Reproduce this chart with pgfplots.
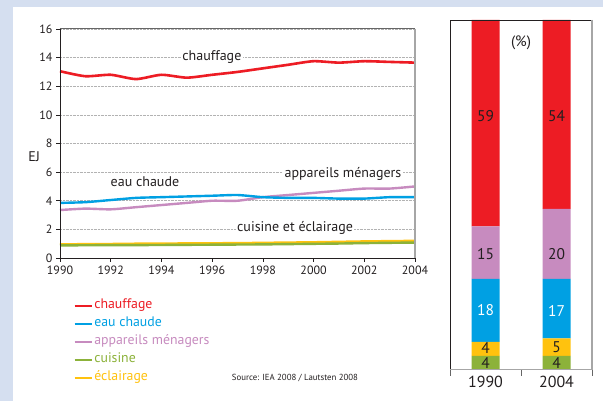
\documentclass[border=0pt]{standalone}
\usepackage{fontspec}
\setmainfont{PT Sans}
\usepackage{pgfplots}
\pgfplotsset{compat=1.18}
\definecolor{cRed}{HTML}{ED1C24}
\definecolor{cBlue}{HTML}{00A0E3}
\definecolor{cPink}{HTML}{C78BBF}
\definecolor{cGreen}{HTML}{8CB23A}
\definecolor{cYellow}{HTML}{FFC20E}
\definecolor{cBg}{HTML}{D5DFF0}
\definecolor{cText}{HTML}{231F20}
\tikzset{barlab/.style={font=\fontsize{15.5}{16}\selectfont, text=cText, inner sep=0pt}}
\newcommand\legimg[1]{\addlegendimage{legend image code/.code={\draw[draw=#1, line width=1.5pt] (-1pt,0pt) -- (16pt,0pt);}}}
\begin{document}
\begin{tikzpicture}
\useasboundingbox (0,0) rectangle (603pt,401pt);
\fill[cBg] (0,0) rectangle (603pt,401pt);
\fill[white] (13pt,0) rectangle (603pt,394pt);
% ---------------- line chart ----------------
\begin{axis}[
  at={(60pt,143pt)}, anchor=south west,
  scale only axis, width=355pt, height=229pt,
  xmin=1990, xmax=2004, ymin=0, ymax=16,
  xtick={1990,1992,...,2004}, ytick={0,2,...,16},
  xtick pos=bottom, ytick pos=left,
  tick align=outside, major tick length=4pt,
  tick style={cText, line width=0.6pt},
  ymajorgrids, grid style={densely dotted, gray!60, line width=0.5pt},
  axis line style={draw=none},
  /pgf/number format/assume math mode=true,
  xticklabel style={/pgf/number format/1000 sep={}, font=\fontsize{12}{13}\selectfont, text=cText},
  yticklabel style={font=\fontsize{12}{13}\selectfont, text=cText},
  clip=false,
  legend cell align=left,
  legend style={at={(0.03,-0.165)}, anchor=north west, draw=none, fill=none,
    font=\fontsize{13.8}{14}\selectfont, row sep=2pt,
    nodes={text height=9pt, text depth=3pt, inner sep=2pt}},
]
\addplot[cYellow, line width=2.4pt, smooth, tension=0.4, forget plot] coordinates {
(1990,0.95)(1991,0.97)(1992,0.98)(1993,1.0)(1994,1.01)(1995,1.02)(1996,1.03)(1997,1.04)(1998,1.06)(1999,1.08)(2000,1.1)(2001,1.13)(2002,1.16)(2003,1.18)(2004,1.2)};
\addplot[cGreen, line width=2.4pt, smooth, tension=0.4, forget plot] coordinates {
(1990,0.88)(1991,0.89)(1992,0.9)(1993,0.9)(1994,0.91)(1995,0.92)(1996,0.93)(1997,0.94)(1998,0.95)(1999,0.97)(2000,0.99)(2001,1.01)(2002,1.04)(2003,1.06)(2004,1.08)};
\addplot[cPink, line width=2.4pt, smooth, tension=0.4, forget plot] coordinates {
(1990,3.35)(1991,3.45)(1992,3.4)(1993,3.55)(1994,3.7)(1995,3.85)(1996,4.0)(1997,4.0)(1998,4.25)(1999,4.4)(2000,4.55)(2001,4.7)(2002,4.85)(2003,4.85)(2004,5.0)};
\addplot[cBlue, line width=2.4pt, smooth, tension=0.4, forget plot] coordinates {
(1990,3.85)(1991,3.9)(1992,4.05)(1993,4.2)(1994,4.25)(1995,4.3)(1996,4.35)(1997,4.4)(1998,4.25)(1999,4.2)(2000,4.2)(2001,4.15)(2002,4.15)(2003,4.25)(2004,4.25)};
\addplot[cRed, line width=2.6pt, smooth, tension=0.4, forget plot] coordinates {
(1990,13.05)(1991,12.7)(1992,12.8)(1993,12.5)(1994,12.8)(1995,12.6)(1996,12.8)(1997,13.0)(1998,13.25)(1999,13.5)(2000,13.75)(2001,13.65)(2002,13.75)(2003,13.7)(2004,13.65)};
\legimg{cRed}\addlegendentry{\textcolor{cRed}{chauffage}}
\legimg{cBlue}\addlegendentry{\textcolor{cBlue}{eau chaude}}
\legimg{cPink}\addlegendentry{\textcolor{cPink}{appareils ménagers}}
\legimg{cGreen}\addlegendentry{\textcolor{cGreen}{cuisine}}
\legimg{cYellow}\addlegendentry{\textcolor{cYellow}{éclairage}}
\draw[gray!80!black, line width=1pt] (rel axis cs:0,1) -- (rel axis cs:1,1);
\draw[gray!70, line width=1.2pt] (rel axis cs:1,1) -- (rel axis cs:1,0);
\draw[cText, line width=0.8pt] (rel axis cs:0,1) -- (rel axis cs:0,0) -- (rel axis cs:1,0);
\node[fill=white, inner sep=1.5pt, text=cText, font=\fontsize{14}{15}\selectfont] at (axis cs:1995.99,14.05) {chauffage};
\node[inner sep=1.5pt, text=cText, font=\fontsize{14}{15}\selectfont] at (axis cs:1993.35,5.31) {eau chaude};
\node[fill=white, inner sep=1.5pt, text=cText, font=\fontsize{14}{15}\selectfont] at (axis cs:2001.16,5.87) {appareils ménagers};
\node[fill=white, inner sep=1.5pt, text=cText, font=\fontsize{14}{15}\selectfont] at (axis cs:1999.27,2.1) {cuisine et éclairage};
\node[text=cText, font=\fontsize{14}{15}\selectfont] at (rel axis cs:-0.073,0.441) {EJ};
\end{axis}
\node[text=cText, font=\fontsize{8.8}{10}\selectfont] at (295pt,23pt) {Source: IEA 2008 / Lautsten 2008};
% ---------------- stacked bars ----------------
\begin{axis}[
  at={(450pt,31pt)}, anchor=south west,
  scale only axis, width=142pt, height=350pt,
  xmin=-0.5, xmax=1.5, ymin=0, ymax=100,
  ybar stacked, bar width=28pt,
  axis line style={draw=none},
  ytick=\empty,
  xtick={-0.5,0.5,1.5}, xticklabels={},
  extra x ticks={0,1}, extra x tick labels={1990,2004},
  extra x tick style={major tick length=0pt},
  xticklabel style={font=\fontsize{16}{17}\selectfont, text=cText, yshift=-3pt},
  xtick pos=bottom, tick align=outside, major tick length=6pt,
  tick style={gray!80!black, line width=0.7pt},
  clip=false,
  after end axis/.append code={
    \draw[cText, line width=0.9pt] (rel axis cs:0,0) -- (rel axis cs:0,1) -- (rel axis cs:1,1);
    \draw[gray!70, line width=1.8pt] (rel axis cs:1,1) -- (rel axis cs:1,0);
    \draw[gray!70, line width=1pt] (rel axis cs:1,0) -- (rel axis cs:0,0);
    \node[barlab] at (axis cs:0,72.5) {59};
    \node[barlab] at (axis cs:1,72.5) {54};
    \node[barlab] at (axis cs:0,33) {15};
    \node[barlab] at (axis cs:1,33) {20};
    \node[barlab, text=white] at (axis cs:0,17) {18};
    \node[barlab, text=white] at (axis cs:1,17) {17};
    \node[barlab] at (axis cs:0,6.2) {4};
    \node[barlab] at (axis cs:1,6.6) {5};
    \node[barlab] at (axis cs:0,2.1) {4};
    \node[barlab] at (axis cs:1,2.1) {4};
    \node[barlab, font=\fontsize{15}{16}\selectfont] at (axis cs:0.5,93.4) {(\%)};
  },
]
\addplot[fill=cGreen, draw=none] coordinates {(0,4)(1,4)};
\addplot[fill=cYellow, draw=none] coordinates {(0,4)(1,5)};
\addplot[fill=cBlue, draw=none] coordinates {(0,18)(1,17)};
\addplot[fill=cPink, draw=none] coordinates {(0,15)(1,20)};
\addplot[fill=cRed, draw=none] coordinates {(0,59)(1,54)};
\end{axis}
\end{tikzpicture}
\end{document}
